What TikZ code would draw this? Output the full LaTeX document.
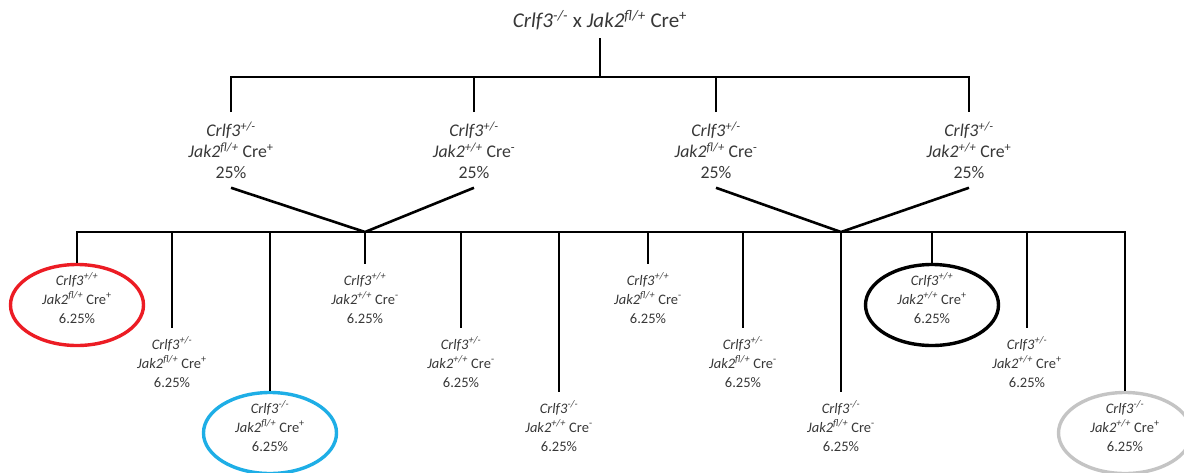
\documentclass[tikz,border=0pt]{standalone}
\usepackage{fontspec}
\setmainfont{Carlito}
\usetikzlibrary{shapes.geometric}
\definecolor{ringred}{RGB}{236,28,36}
\definecolor{ringblue}{RGB}{30,174,230}
\definecolor{ringgrey}{RGB}{196,196,196}
\definecolor{gtext}{RGB}{55,55,55}
\newcommand{\crlf}[1]{\textit{Crlf3\textsuperscript{#1}}}
\newcommand{\jak}[1]{\textit{Jak2\textsuperscript{#1}}}
\newcommand{\cre}[1]{Cre\textsuperscript{#1}}

\begin{document}
\begin{tikzpicture}[x=1pt,y=-1pt,line width=2.6pt,
    every node/.style={text=gtext,align=center},
    cross/.style={font=\fontsize{21}{25}\selectfont,inner xsep=0pt,inner ysep=7pt},
    parent/.style={font=\fontsize{17.8}{21}\selectfont,inner xsep=0pt,inner ysep=8pt},
    kid/.style={font=\fontsize{14.5}{19}\selectfont,inner xsep=0pt,inner ysep=8pt},
    ring/.style={draw=#1,ellipse,line width=3.4pt,minimum width=133pt,minimum height=81pt,inner sep=0pt}]
  \useasboundingbox (0,0) rectangle (1184,472);
  % Cross
  \node[cross] (cross) at (600,20) {\crlf{-/-} x \jak{fl/+} \cre{+}};
  \coordinate (tbar) at (600,77);
  % First generation
  \node[parent] (p1) at (231,150) {\crlf{+/-}\\\jak{fl/+} \cre{+}\\25\%};
  \node[parent] (p2) at (474,150) {\crlf{+/-}\\\jak{+/+} \cre{-}\\25\%};
  \node[parent] (p3) at (716,150) {\crlf{+/-}\\\jak{fl/+} \cre{-}\\25\%};
  \node[parent] (p4) at (969,150) {\crlf{+/-}\\\jak{+/+} \cre{+}\\25\%};
  \draw (cross.south) -- (tbar);
  \draw (p1.north) |- (tbar) -| (p4.north);
  \draw (p2.north) -- (p2.north |- tbar);
  \draw (p3.north) -- (p3.north |- tbar);
  % Second generation
  \coordinate (v1) at (365,232);
  \coordinate (v2) at (841,232);
  \draw (p1.south) -- (v1) -- (p2.south);
  \draw (p3.south) -- (v2) -- (p4.south);
  \node[ring=ringred] (r1) at (77,305) {};
  \node[ring=ringblue] (r3) at (270,433) {};
  \node[ring=black] (r10) at (932,305) {};
  \node[ring=ringgrey] (r12) at (1125,433) {};
  \node[kid] (c1) at (77,298) {\crlf{+/+}\\\jak{fl/+} \cre{+}\\6.25\%};
  \node[kid] (c2) at (172,362) {\crlf{+/-}\\\jak{fl/+} \cre{+}\\6.25\%};
  \node[kid] (c3) at (270,426) {\crlf{-/-}\\\jak{fl/+} \cre{+}\\6.25\%};
  \node[kid] (c4) at (365,298) {\crlf{+/+}\\\jak{+/+} \cre{-}\\6.25\%};
  \node[kid] (c5) at (461,362) {\crlf{+/-}\\\jak{+/+} \cre{-}\\6.25\%};
  \node[kid] (c6) at (559,426) {\crlf{-/-}\\\jak{+/+} \cre{-}\\6.25\%};
  \node[kid] (c7) at (648,298) {\crlf{+/+}\\\jak{fl/+} \cre{-}\\6.25\%};
  \node[kid] (c8) at (743,362) {\crlf{+/-}\\\jak{fl/+} \cre{-}\\6.25\%};
  \node[kid] (c9) at (841,426) {\crlf{-/-}\\\jak{fl/+} \cre{-}\\6.25\%};
  \node[kid] (c10) at (932,298) {\crlf{+/+}\\\jak{+/+} \cre{+}\\6.25\%};
  \node[kid] (c11) at (1027,362) {\crlf{+/-}\\\jak{+/+} \cre{+}\\6.25\%};
  \node[kid] (c12) at (1125,426) {\crlf{-/-}\\\jak{+/+} \cre{+}\\6.25\%};
  \draw (r1.north) |- (v2) -| (r12.north);
  \draw (r3.north) -- (r3.north |- v1);
  \draw (r10.north) -- (r10.north |- v1);
  \foreach \n in {2,4,5,6,7,8,9,11}
    \draw (c\n.north) -- (c\n.north |- v1);
\end{tikzpicture}
\end{document}
